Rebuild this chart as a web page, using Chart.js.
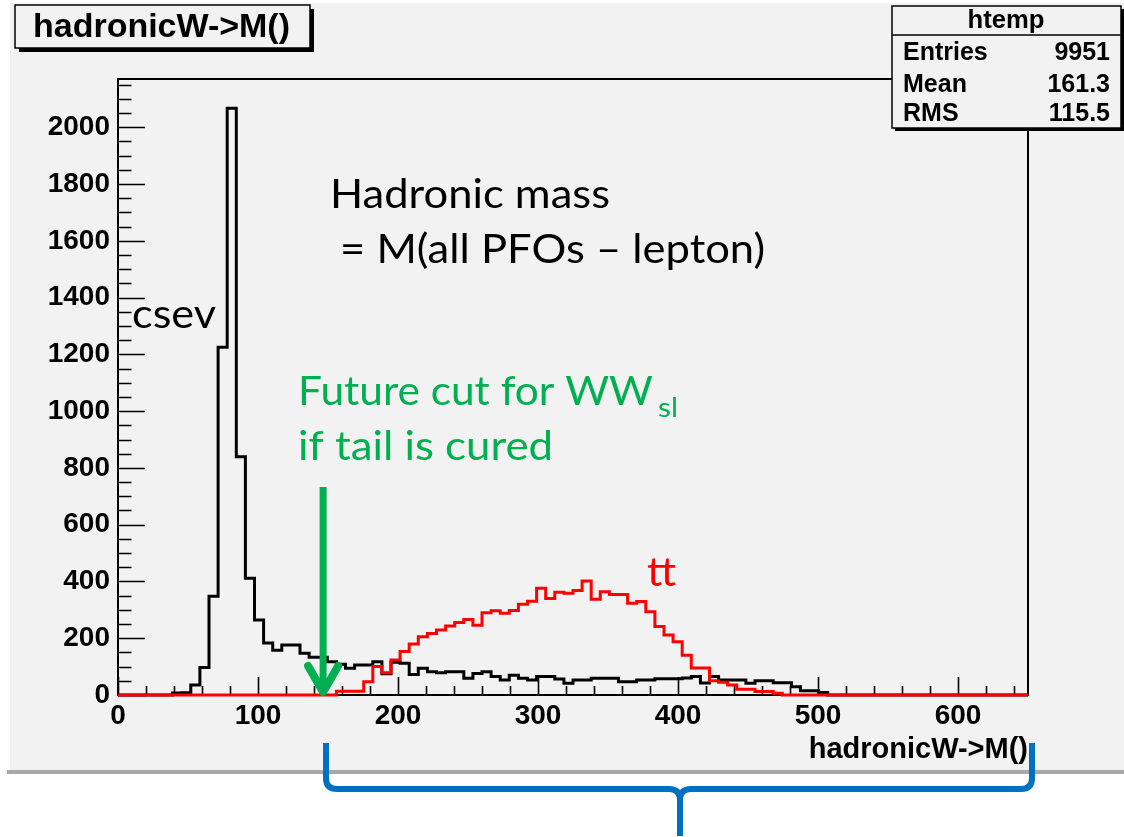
<!DOCTYPE html>
<html><head><meta charset="utf-8">
<script src="https://cdn.jsdelivr.net/npm/chart.js@4.4.1/dist/chart.umd.min.js"></script>
<style>html,body{margin:0;padding:0;background:#fff;}canvas{display:block;}</style>
</head><body>
<canvas id="c" width="1124" height="837"></canvas>
<script>
// ---------------- data ----------------
const X_MIN = 0, X_MAX = 650;
const Y_MAX = 2170;
const csevCounts = [
  0,0,0,0,0,0,7,8,35,97,
  348,1225,2067,839,411,264,183,158,176,176,
  147,133,133,117,108,94,106,106,117,75,
  115,112,72,94,82,78,82,82,59,76,
  82,65,53,70,59,53,65,65,56,41,
  53,53,59,59,59,47,47,53,53,57,
  57,57,60,65,42,65,53,53,53,41,
  50,50,43,43,29,15,15,9,0,0,
  0,0,0,0,0,0,0,0,0,0,
  0,0,0,0,0,0,0,0,0,0
];
const ttCounts = [
  0,0,0,0,0,0,0,0,0,0,
  0,0,0,0,0,0,0,0,0,0,
  0,0,0,0,13,13,13,47,100,78,
  123,153,180,205,217,229,243,255,266,246,
  290,297,288,298,320,330,376,340,362,358,
  368,402,337,364,354,354,323,329,293,241,
  211,188,140,95,95,50,45,35,20,20,
  12,12,6,0,0,0,0,0,0,0,
  0,0,0,0,0,0,0,0,0,0,
  0,0,0,0,0,0,0,0,0,0
];
const xTickValues = [0,100,200,300,400,500,600];
const yTickValues = [0,200,400,600,800,1000,1200,1400,1600,1800,2000];
const histTitle = 'hadronicW->M()';
const axisTitle = 'hadronicW->M()';
const statsTitle = 'htemp';
const statsRows = [['Entries','9951'],['Mean','161.3'],['RMS','115.5']];
const CUT_VALUE = 146.5;

function stepPoints(counts){
  const w = (X_MAX - X_MIN) / counts.length;
  const pts = counts.map((v,i)=>({x: X_MIN + i*w, y: v}));
  pts.push({x: X_MAX, y: counts[counts.length-1]});
  return pts;
}

// ---------------- drawing helpers ----------------
const BG = '#f2f2f2';
const GREEN = '#00b050';
const BLUE = '#0070c0';
function bold(s){ return 'bold ' + s + 'px "Liberation Sans", Arial, sans-serif'; }
function fitText(ctx, text, x, y, font, targetW, color, align){
  ctx.save();
  ctx.font = font;
  const w = ctx.measureText(text).width;
  const sx = targetW ? targetW / w : 1;
  ctx.translate(x, y); ctx.scale(sx, 1);
  ctx.fillStyle = color; ctx.textAlign = align || 'left'; ctx.textBaseline = 'alphabetic';
  ctx.fillText(text, 0, 0);
  ctx.restore();
}
function shadowBox(ctx, x0, y0, x1, y1, sh){
  ctx.fillStyle = '#000';
  ctx.fillRect(x0 + sh, y0 + sh, x1 - x0, y1 - y0);
  ctx.fillStyle = BG;
  ctx.fillRect(x0, y0, x1 - x0, y1 - y0);
  ctx.lineWidth = 1.5; ctx.strokeStyle = '#000';
  ctx.strokeRect(x0, y0, x1 - x0, y1 - y0);
}

const rootPlugin = {
  id: 'rootStyle',
  beforeDraw(chart){
    const ctx = chart.ctx;
    ctx.save();
    ctx.fillStyle = '#fff'; ctx.fillRect(0, 0, chart.width, chart.height);
    ctx.fillStyle = '#a8a8a8'; ctx.fillRect(7, 770, chart.width - 7, 4);
    ctx.fillStyle = BG; ctx.fillRect(10, 3, chart.width - 10, 767);
    ctx.restore();
  },
  beforeDatasetsDraw(chart){
    const ctx = chart.ctx, a = chart.chartArea;
    const xs = chart.scales.x, ys = chart.scales.y;
    ctx.save();
    ctx.strokeStyle = '#000'; ctx.lineWidth = 2;
    ctx.strokeRect(a.left, a.top, a.right - a.left, a.bottom - a.top);
    ctx.lineWidth = 1.6;
    ctx.beginPath();
    for (let v = 0; v <= Y_MAX; v += 50){
      const p = Math.round(ys.getPixelForValue(v)) + 0.5;
      const len = (v % 200 === 0) ? 27 : 13.5;
      ctx.moveTo(a.left, p); ctx.lineTo(a.left + len, p);
    }
    for (let v = X_MIN; v <= X_MAX; v += 20){
      const p = Math.round(xs.getPixelForValue(v)) + 0.5;
      const len = (v % 100 === 0) ? 18 : 9;
      ctx.moveTo(p, a.bottom); ctx.lineTo(p, a.bottom - len);
    }
    ctx.stroke();
    ctx.restore();
  },
  afterDraw(chart){
    const ctx = chart.ctx, a = chart.chartArea;
    const xs = chart.scales.x;
    ctx.save();
    // title box
    shadowBox(ctx, 15, 5, 310, 48, 4);
    fitText(ctx, histTitle, 33, 37, bold(33), 257, '#000');

    // stats box
    shadowBox(ctx, 892, 6, 1121, 128, 3);
    ctx.beginPath(); ctx.lineWidth = 1.5; ctx.moveTo(892, 35); ctx.lineTo(1121, 35); ctx.stroke();
    fitText(ctx, statsTitle, 1006, 28, bold(25), 77, '#000', 'center');
    const rowY = [60, 92, 121];
    statsRows.forEach((r, i) => {
      fitText(ctx, r[0], 903, rowY[i], bold(25), null, '#000', 'left');
      fitText(ctx, r[1], 1110, rowY[i], bold(25), null, '#000', 'right');
    });

    // annotations
    const AF = '41px Lato, "Open Sans", sans-serif';
    fitText(ctx, 'Hadronic mass', 330, 208, AF, 280, '#000');
    fitText(ctx, '= M(all PFOs \u2013 lepton)', 340, 263, AF, 425, '#000');
    fitText(ctx, 'csev', 132, 328, AF, 84, '#000');
    fitText(ctx, 'Future cut for WW', 298, 405, AF, 355, GREEN);
    fitText(ctx, 'sl', 658, 417, '26px Lato, "Open Sans", sans-serif', 20, GREEN);
    fitText(ctx, 'if tail is cured', 298, 460, AF, 255, GREEN);
    fitText(ctx, 'tt', 647, 586, AF, 29, '#ff0000');

    // cut arrow
    const cx = xs.getPixelForValue(CUT_VALUE);
    ctx.strokeStyle = GREEN; ctx.lineCap = 'butt';
    ctx.lineWidth = 7;
    ctx.beginPath(); ctx.moveTo(cx, 487); ctx.lineTo(cx, a.bottom - 6); ctx.stroke();
    ctx.lineWidth = 8; ctx.lineCap = 'round'; ctx.lineJoin = 'round';
    ctx.beginPath(); ctx.moveTo(cx - 15, 666); ctx.lineTo(cx, a.bottom - 3); ctx.lineTo(cx + 15, 666); ctx.stroke();

    // brace
    ctx.strokeStyle = BLUE; ctx.lineWidth = 6; ctx.lineCap = 'butt'; ctx.lineJoin = 'round';
    const L = 326, R = 1032, M = 680, top = 743, hy = 789, tip = 836, r = 11;
    ctx.beginPath();
    ctx.moveTo(L, top); ctx.lineTo(L, hy - r);
    ctx.quadraticCurveTo(L, hy, L + r, hy);
    ctx.lineTo(M - r, hy);
    ctx.quadraticCurveTo(M, hy, M, hy + r);
    ctx.lineTo(M, tip);
    ctx.moveTo(M, hy + r);
    ctx.quadraticCurveTo(M, hy, M + r, hy);
    ctx.lineTo(R - r, hy);
    ctx.quadraticCurveTo(R, hy, R, hy - r);
    ctx.lineTo(R, top);
    ctx.stroke();
    ctx.restore();
  }
};

const tickFont = {family: '"Liberation Sans", Arial, sans-serif', weight: 'bold', size: 28};

new Chart(document.getElementById('c'), {
  type: 'line',
  data: {
    datasets: [
      {label: 'tt', data: stepPoints(ttCounts), stepped: 'before', borderColor: '#ff0000', borderWidth: 3, pointRadius: 0, fill: false, order: 0, clip: 4},
      {label: 'csev', data: stepPoints(csevCounts), stepped: 'before', borderColor: '#000000', borderWidth: 3, pointRadius: 0, fill: false, order: 1, clip: 4}
    ]
  },
  options: {
    responsive: false, animation: false, devicePixelRatio: 1,
    layout: {padding: {left: 0, right: 96, top: 79, bottom: 70}},
    plugins: {legend: {display: false}, tooltip: {enabled: false}, title: {display: false}},
    scales: {
      x: {
        type: 'linear', min: X_MIN, max: X_MAX,
        grid: {display: false, drawTicks: false}, border: {display: false},
        ticks: {font: tickFont, color: '#000', padding: 4, maxRotation: 0, autoSkip: false, callback: v => String(v)},
        afterBuildTicks: s => { s.ticks = xTickValues.map(v => ({value: v})); },
        title: {display: true, text: axisTitle, align: 'end', color: '#000',
                font: {family: '"Liberation Sans", Arial, sans-serif', weight: 'bold', size: 29}, padding: {top: 0, bottom: 0}},
        afterFit: s => { s.height = 72; }
      },
      y: {
        type: 'linear', min: 0, max: Y_MAX,
        grid: {display: false, drawTicks: false}, border: {display: false},
        ticks: {font: tickFont, color: '#000', padding: 8, callback: v => String(v)},
        afterBuildTicks: s => { s.ticks = yTickValues.map(v => ({value: v})); },
        afterFit: s => { s.width = 118; }
      }
    }
  },
  plugins: [rootPlugin]
});
</script>
</body></html>
